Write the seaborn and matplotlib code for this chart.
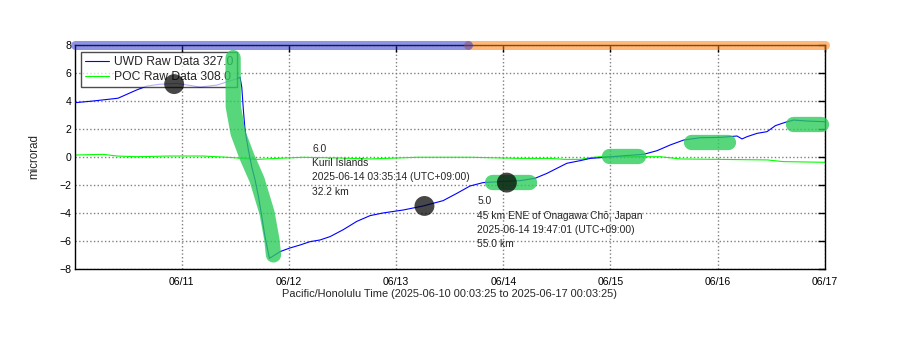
import seaborn as sns
import pandas as pd
import matplotlib.pyplot as plt
import matplotlib.dates as mdates
import numpy as np

# times are days since 2025-06-10 00:00 (Pacific/Honolulu)
uwd_t = [0.0024, 0.170, 0.404, 0.581, 0.675, 0.796, 0.955, 1.169, 1.328, 1.515,
         1.543, 1.559, 1.574, 1.590, 1.621, 1.652, 1.683, 1.714, 1.746, 1.776,
         1.817, 1.854, 1.917, 2.010, 2.103, 2.197, 2.290, 2.383, 2.505, 2.633,
         2.757, 2.878, 3.065, 3.252, 3.438, 3.566, 3.690, 3.812, 3.971, 4.157,
         4.297, 4.407, 4.500, 4.593, 4.718, 4.811, 4.904, 5.091, 5.309, 5.434,
         5.558, 5.683, 5.838, 6.025, 6.181, 6.228, 6.274, 6.368, 6.461, 6.539,
         6.632, 6.709, 6.834, 7.0024]
uwd_v = [3.88, 4.0, 4.2, 4.8, 5.07, 5.2, 5.26, 5.0, 5.14, 5.6,
         5.7, 5.0, 3.36, 1.9, 0.5, -0.7, -1.64, -2.8, -4.26, -5.7,
         -7.24, -7.07, -6.76, -6.5, -6.29, -6.05, -5.93, -5.69, -5.2, -4.6,
         -4.19, -4.0, -3.79, -3.5, -3.12, -2.6, -2.07, -1.83, -1.76, -1.69,
         -1.52, -1.17, -0.81, -0.45, -0.26, -0.1, -0.05, 0.07, 0.19, 0.45,
         0.86, 1.21, 1.38, 1.40, 1.5, 1.29, 1.45, 1.69, 1.81, 2.24,
         2.48, 2.64, 2.57, 2.52]

poc_t = [0.0024, 0.264, 0.395, 0.581, 0.889, 1.198, 1.422, 1.702, 1.888, 2.131,
         2.449, 2.757, 3.196, 3.690, 4.157, 4.437, 4.577, 4.718, 4.811, 4.904,
         5.465, 5.652, 6.464, 6.613, 7.0024]
poc_v = [0.14, 0.19, 0.07, 0.02, 0.07, 0.07, -0.02, -0.17, -0.1, -0.02,
         -0.07, -0.14, -0.02, -0.02, -0.1, -0.1, -0.17, -0.17, -0.05, 0.02,
         0.02, -0.14, -0.21, -0.33, -0.38]

# highlighted drop (green path)
drop_t = [1.478, 1.480, 1.525, 1.608, 1.702, 1.795, 1.840, 1.855]
drop_v = [7.1, 3.6, 1.7, 0.0, -1.64, -4.0, -5.9, -7.0]

# flat highlighted windows: start, end, level
flat_t0 = [3.891, 4.983, 5.750, 6.706]
flat_t1 = [4.236, 5.258, 6.095, 6.963]
flat_v = [-1.76, 0.05, 1.05, 2.36]

# event markers
event_t = [0.928, 3.264, 4.033]
event_v = [5.21, -3.5, -1.83]

# status bar along the top
bar_split = 3.672
t_start, t_end = 0.0024, 7.0024

quakes = [
    (2.215, 0.95, "6.0\nKuril Islands\n2025-06-14 03:35:14 (UTC+09:00)\n32.2 km"),
    (3.759, -2.8, "5.0\n45 km ENE of Onagawa Chō, Japan\n2025-06-14 19:47:01 (UTC+09:00)\n55.0 km"),
]

base = pd.Timestamp("2025-06-10")
def to_time(days):
    return base + pd.to_timedelta(np.asarray(days), unit="D")

uwd = pd.DataFrame({"time": to_time(uwd_t), "microrad": uwd_v})
poc = pd.DataFrame({"time": to_time(poc_t), "microrad": poc_v})
events = pd.DataFrame({"time": to_time(event_t), "microrad": event_v})

sns.set_theme(style="white")
plt.rcParams["font.family"] = ["Liberation Sans", "DejaVu Sans"]

fig, ax = plt.subplots(figsize=(9, 3.52), dpi=100)
fig.subplots_adjust(left=0.0833, right=0.9167, top=0.872, bottom=0.236)

sns.lineplot(data=uwd, x="time", y="microrad", ax=ax, color="#0000ff", lw=0.8,
             estimator=None, label="UWD Raw Data 327.0", zorder=3)
sns.lineplot(data=poc, x="time", y="microrad", ax=ax, color="#00ff00", lw=0.8,
             estimator=None, label="POC Raw Data 308.0", zorder=2)

green = "#2ecc5a"
ax.plot(to_time(drop_t), drop_v, color=green, alpha=0.8, lw=11,
        solid_capstyle="round", solid_joinstyle="round", zorder=6)
for a, b, v in zip(flat_t0, flat_t1, flat_v):
    ax.plot(to_time([a, b]), [v, v], color=green, alpha=0.8, lw=11,
            solid_capstyle="round", zorder=6, clip_on=False)

ax.plot(to_time([t_start, bar_split]), [8, 8], color="#1e28c8", alpha=0.5,
        lw=6.5, solid_capstyle="round", zorder=6, clip_on=False)
ax.plot(to_time([bar_split, t_end]), [8, 8], color="#ff7f0e", alpha=0.55,
        lw=6.5, solid_capstyle="round", zorder=5, clip_on=False)

sns.scatterplot(data=events, x="time", y="microrad", ax=ax, color="black",
                alpha=0.72, s=205, edgecolor="none", zorder=7, legend=False)

for t, v, txt in quakes:
    ax.text(to_time([t])[0], v, txt, fontsize=7.4, va="top", ha="left",
            linespacing=1.55, zorder=8)

ax.set_xlim(to_time([t_start])[0], to_time([t_end])[0])
ax.set_ylim(-8, 8)
ax.set_yticks(range(-8, 9, 2))
ax.xaxis.set_major_locator(mdates.DayLocator())
ax.xaxis.set_major_formatter(mdates.DateFormatter("%m/%d"))

ax.grid(True, color="#808080", linestyle=":", lw=1)
for s in ax.spines.values():
    s.set_visible(True)
    s.set_color("black")
    s.set_linewidth(1)
ax.tick_params(direction="in", length=5, width=1, top=True, right=True,
               labelsize=7.6, colors="black")
ax.tick_params(axis="x", pad=5.5)
ax.tick_params(axis="y", pad=2.5)

ax.set_xlabel("Pacific/Honolulu Time (2025-06-10 00:03:25 to 2025-06-17 00:03:25)",
              fontsize=7.9, labelpad=2)
ax.set_ylabel("microrad", fontsize=8.3, labelpad=14)

leg = ax.legend(loc="upper left", bbox_to_anchor=(0.008, 0.967), fontsize=8.7,
                frameon=True, fancybox=False, edgecolor="black", framealpha=0.7,
                handlelength=2.0, handletextpad=0.4, borderpad=0.3,
                labelspacing=0.25, borderaxespad=0)
leg.get_frame().set_linewidth(1)
leg.set_zorder(5)

plt.savefig("out.png", dpi=100)
